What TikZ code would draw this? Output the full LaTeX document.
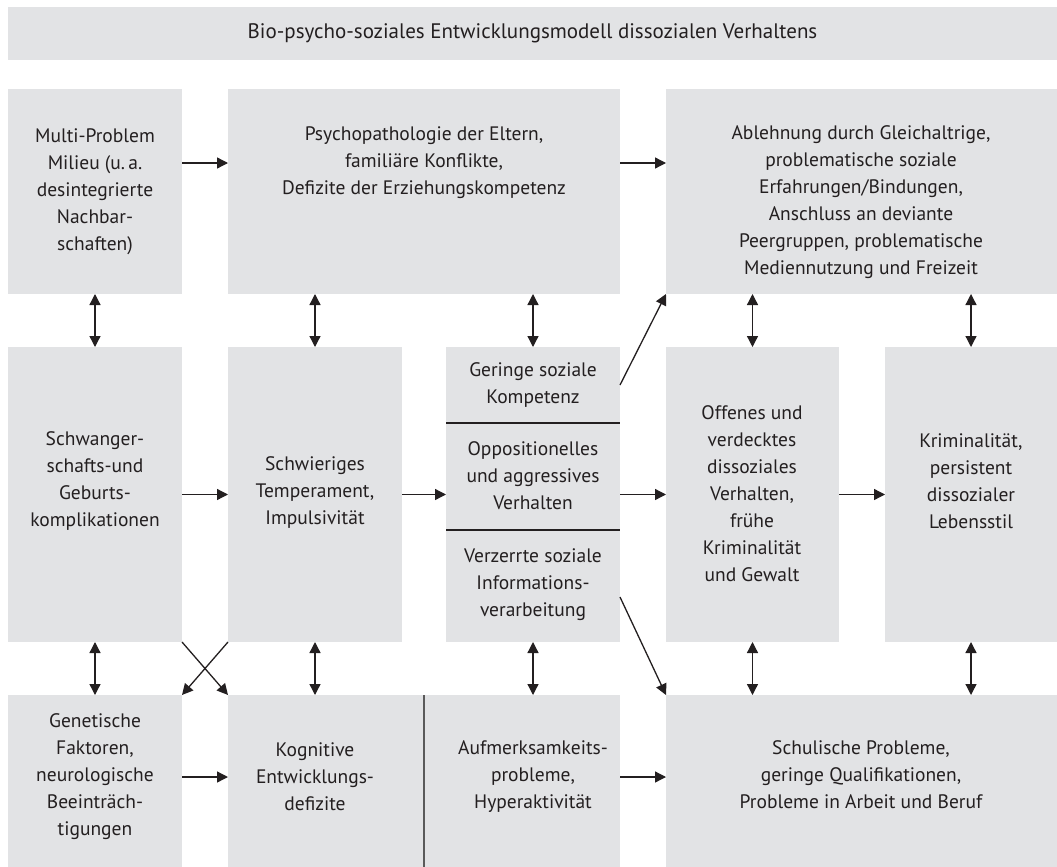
\documentclass[tikz,border=0pt]{standalone}
\usepackage{fontspec}
\setmainfont{PT Sans}
\usetikzlibrary{arrows.meta,calc}

\definecolor{boxgray}{RGB}{226,227,229}
\definecolor{inkgray}{RGB}{35,31,32}
\definecolor{rulegray}{RGB}{90,90,90}

\tikzset{
  box/.style={fill=boxgray, draw=none, inner sep=0pt, outer sep=0pt, anchor=north west},
  txt/.style={align=center, inner sep=0pt, text=inkgray,
              font=\fontsize{19.5}{27}\selectfont},
  ttl/.style={txt, font=\fontsize{21}{27}\selectfont},
  arr/.style={-{Triangle[length=11pt,width=11pt]}, line width=1.3pt, draw=inkgray},
  dbl/.style={{Triangle[length=11pt,width=11pt]}-{Triangle[length=11pt,width=11pt]},
              line width=1.3pt, draw=inkgray},
  divider/.style={line width=1.2pt, draw=inkgray},
  coldiv/.style={line width=2pt, draw=rulegray}
}

% a grey panel from its top-left to its bottom-right corner
\newcommand{\panel}[5]{%
  \node[box, minimum width={(#4-#2)*1pt}, minimum height={(#5-#3)*1pt}] (#1) at (#2,#3) {};}

\begin{document}
\begin{tikzpicture}[x=1pt, y=-1pt]
\useasboundingbox (0,0) rectangle (1057,867);

% panels
\panel{T}{8}{7}{1057}{60}
\panel{A}{8}{89}{182}{294}
\panel{B}{228}{89}{620}{294}
\panel{C}{666}{89}{1057}{294}
\panel{D}{8}{347}{182}{642}
\panel{E}{228}{347}{402}{642}
\panel{F}{446}{347}{620}{642}
\panel{G}{666}{347}{839}{642}
\panel{H}{885}{347}{1057}{642}
\panel{I}{8}{695}{182}{867}
\panel{J}{228}{695}{620}{867}
\panel{K}{666}{695}{1057}{867}

% inner rules
\draw[divider] (F.west |- 0,423) -- (F.east |- 0,423);
\draw[divider] (F.west |- 0,530) -- (F.east |- 0,530);
\draw[coldiv] ($(J.north west)+(196,0)$) -- ($(J.south west)+(196,0)$);

% texts
\node[ttl] (Tt) at (T.center) {Bio-psycho-soziales Entwicklungsmodell dissozialen Verhaltens};
\node[txt] (At) at (95,192) {Multi-Problem\\Milieu (u.\,a.\\desintegrierte\\Nachbar-\\schaften)};
\node[txt] (Bt) at (424,163) {Psychopathologie der Eltern,\\familiäre Konflikte,\\Defizite der Erziehungskompetenz};
\node[txt] (Ct) at (861,202) {Ablehnung durch Gleichaltrige,\\problematische soziale\\Erfahrungen/Bindungen,\\Anschluss an deviante\\Peergruppen, problematische\\Mediennutzung und Freizeit};
\node[txt] (Dt) at (95,481) {Schwanger-\\schafts-und\\Geburts-\\komplikationen};
\node[txt] (Et) at (315,493) {Schwieriges\\Temperament,\\Impulsivität};
\node[txt] (F1t) at (533,385) {Geringe soziale\\Kompetenz};
\node[txt] (F2t) at (533,476) {Oppositionelles\\und aggressives\\Verhalten};
\node[txt] (F3t) at (533,585) {Verzerrte soziale\\Informations-\\verarbeitung};
\node[txt] (Gt) at (752,494) {Offenes und\\verdecktes\\dissoziales\\Verhalten,\\frühe\\Kriminalität\\und Gewalt};
\node[txt] (Ht) at (971,481) {Kriminalität,\\persistent\\dissozialer\\Lebensstil};
\node[txt] (It) at (95,777) {Genetische\\Faktoren,\\neurologische\\Beeinträch-\\tigungen};
\node[txt] (J1t) at (315,777) {Kognitive\\Entwicklungs-\\defizite};
\node[txt] (J2t) at (533,777) {Aufmerksamkeits-\\probleme,\\Hyperaktivität};
\node[txt] (Kt) at (861,775) {Schulische Probleme,\\geringe Qualifikationen,\\Probleme in Arbeit und Beruf};

% horizontal arrows
\draw[arr] (A.east |- Bt.center) -- (B.west |- Bt.center);
\draw[arr] (B.east |- Bt.center) -- (C.west |- Bt.center);
\draw[arr] (D.east |- E.west) -- (E.west);
\draw[arr] (E.east) -- (F.west);
\draw[arr] (F.east) -- (G.west);
\draw[arr] (G.east) -- (H.west);
\draw[arr] (I.east |- J1t.center) -- (J.west |- J1t.center);
\draw[arr] (J.east |- J1t.center) -- (K.west |- J1t.center);

% vertical two-way arrows
\draw[dbl] (A.south) -- (D.north);
\draw[dbl] (E.north |- B.south) -- (E.north);
\draw[dbl] (F.north |- B.south) -- (F.north);
\draw[dbl] (G.north |- C.south) -- (G.north);
\draw[dbl] (H.north |- C.south) -- (H.north);
\draw[dbl] (D.south) -- (I.north);
\draw[dbl] (E.south) -- (E.south |- J.north);
\draw[dbl] (F.south) -- (F.south |- J.north);
\draw[dbl] (G.south) -- (G.south |- K.north);
\draw[dbl] (H.south) -- (H.south |- K.north);

% diagonal arrows
\draw[arr] (F.east |- F1t.center) -- (C.south west);
\coordinate (Fout) at ($(F.south east)+(0,-45)$);
\draw[arr] (Fout) -- (K.north west);
\draw[arr] (D.south east) -- (J.north west);
\draw[arr] (E.south west) -- (I.north east);
\end{tikzpicture}
\end{document}
